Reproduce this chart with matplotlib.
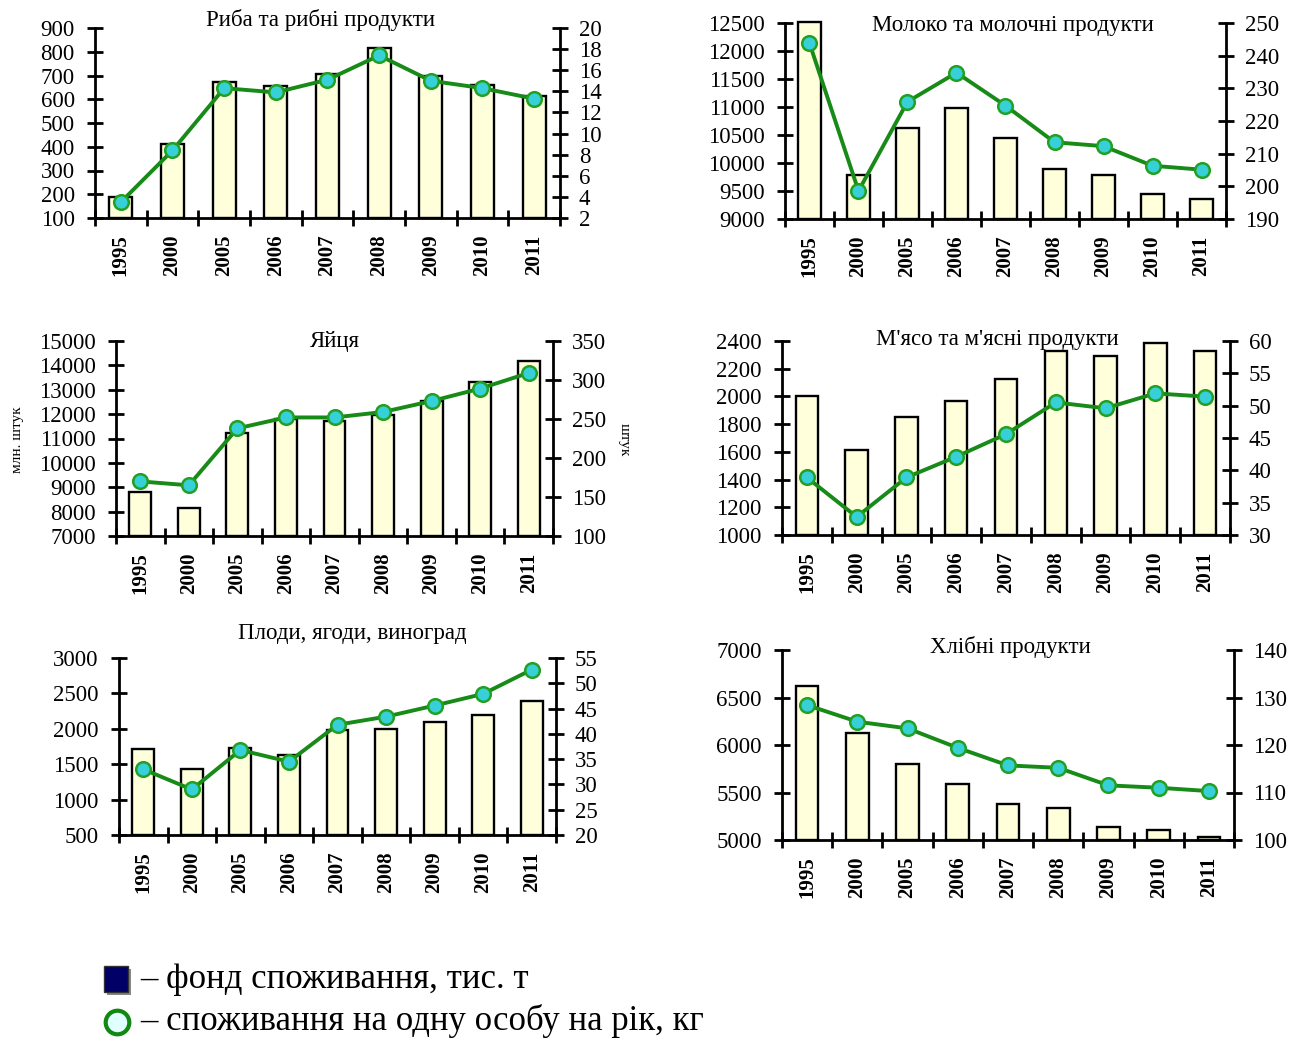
import numpy as np
import matplotlib.pyplot as plt
from matplotlib.patches import Rectangle
from matplotlib.lines import Line2D

plt.rcParams['font.family'] = ['Liberation Serif', 'DejaVu Serif']

# Дані (оцінені з рисунка)
years = ['1995', '2000', '2005', '2006', '2007', '2008', '2009', '2010', '2011']

fish_fund = [187, 412, 673, 654, 705, 815, 696, 662, 612]
fish_per_capita = [3.5, 8.4, 14.3, 13.9, 15.1, 17.4, 15.0, 14.3, 13.3]

milk_fund = [12520, 9790, 10620, 10975, 10440, 9885, 9790, 9445, 9350]
milk_per_capita = [243.8, 198.6, 225.9, 234.8, 224.7, 213.5, 212.3, 206.3, 205.1]

eggs_fund = [8800, 8130, 11210, 11790, 11720, 11970, 12540, 13320, 14190]
eggs_per_capita = [170, 165, 238, 252, 252, 259, 273, 289, 309]

meat_fund = [2006, 1616, 1851, 1968, 2125, 2331, 2292, 2386, 2331]
meat_per_capita = [38.9, 32.8, 38.9, 42.1, 45.6, 50.5, 49.6, 51.9, 51.4]

fruit_fund = [1710, 1430, 1730, 1630, 1985, 2000, 2090, 2198, 2396]
fruit_per_capita = [33.0, 29.0, 36.8, 34.5, 41.8, 43.4, 45.6, 47.9, 52.7]

bread_fund = [6620, 6127, 5803, 5588, 5380, 5338, 5137, 5109, 5035]
bread_per_capita = [128.4, 124.9, 123.5, 119.4, 115.7, 115.2, 111.5, 111.0, 110.3]

W, H = 1291, 1039
fig = plt.figure(figsize=(W / 100, H / 100), dpi=100)

BAR_COLOR = '#ffffdc'
LINE_COLOR = '#178a17'
MARKER_FACE = '#38d0d8'
MARKER_EDGE = '#22a022'


def draw_panel(box, fund, per_capita, left_ticks, right_ticks, title, title_xy):
    l, r, t, b = box
    ax = fig.add_axes([l / W, 1 - b / H, (r - l) / W, (b - t) / H])
    x = np.arange(len(years))
    base = left_ticks[0]
    ax.bar(x, np.array(fund) - base, bottom=base, width=0.45, color=BAR_COLOR,
           edgecolor='black', linewidth=1.7, clip_on=False)
    ax.set_xlim(-0.5, len(years) - 0.5)
    ax.set_ylim(left_ticks[0], left_ticks[-1])

    ax2 = ax.twinx()
    ax2.plot(x, per_capita, color=LINE_COLOR, linewidth=2.8, marker='o',
             markersize=10.5, markerfacecolor=MARKER_FACE,
             markeredgecolor=MARKER_EDGE, markeredgewidth=1.8, clip_on=False)
    ax2.set_ylim(right_ticks[0], right_ticks[-1])

    for a in (ax, ax2):
        a.spines['top'].set_visible(False)
        for s in a.spines.values():
            s.set_linewidth(2)
    ax.spines['right'].set_visible(False)
    ax2.spines['left'].set_visible(False)
    ax2.spines['bottom'].set_visible(False)

    ax.set_xticks(np.arange(-0.5, len(years), 1))
    ax.set_xticklabels([])
    ax.set_xticks(x, minor=True)
    ax.set_xticklabels(years, minor=True, rotation=90, fontweight='bold', fontsize=15)
    ax.tick_params(axis='x', which='major', direction='inout', length=11, width=2)
    ax.tick_params(axis='x', which='minor', length=0, pad=12)

    ax.set_yticks(left_ticks)
    ax.tick_params(axis='y', direction='inout', length=11, width=2,
                   labelsize=16.5, pad=9)
    ax2.set_yticks(right_ticks)
    ax2.tick_params(axis='y', direction='inout', length=11, width=2,
                    labelsize=16.5, pad=8)

    fig.text(title_xy[0] / W, 1 - title_xy[1] / H, title, ha='center',
             va='center', fontsize=16.5)
    return ax, ax2


draw_panel((95, 560, 28, 218), fish_fund, fish_per_capita,
           list(range(100, 901, 100)), list(range(2, 21, 2)),
           'Риба та рибні продукти', (320, 20))
draw_panel((785, 1226, 23, 219), milk_fund, milk_per_capita,
           list(range(9000, 12501, 500)), list(range(190, 251, 10)),
           'Молоко та молочні продукти', (1013, 25))
draw_panel((116, 553, 341, 536), eggs_fund, eggs_per_capita,
           list(range(7000, 15001, 1000)), list(range(100, 351, 50)),
           'Яйця', (335, 342))
draw_panel((782, 1230, 341, 535), meat_fund, meat_per_capita,
           list(range(1000, 2401, 200)), list(range(30, 61, 5)),
           "М'ясо та м'ясні продукти", (997, 340))
draw_panel((119, 556, 658, 835), fruit_fund, fruit_per_capita,
           list(range(500, 3001, 500)), list(range(20, 56, 5)),
           'Плоди, ягоди, виноград', (352, 633))
draw_panel((782, 1234, 650, 840), bread_fund, bread_per_capita,
           list(range(5000, 7001, 500)), list(range(100, 141, 10)),
           'Хлібні продукти', (1010, 647))

fig.text(17 / W, 1 - 440 / H, 'млн. штук', rotation=90, fontsize=11,
         ha='center', va='center')
fig.text(624 / W, 1 - 440 / H, 'штук', rotation=270, fontsize=11,
         ha='center', va='center')

# Легенда
fig.add_artist(Rectangle((107 / W, 1 - 995 / H), 24 / W, 26 / H,
                         transform=fig.transFigure, facecolor='#888888',
                         edgecolor='none'))
fig.add_artist(Rectangle((104 / W, 1 - 992 / H), 24 / W, 26 / H,
                         transform=fig.transFigure, facecolor='#000066',
                         edgecolor='#333333', linewidth=1))
fig.add_artist(Line2D([117 / W], [1 - 1022 / H], transform=fig.transFigure,
                      linestyle='none', marker='o', markersize=17,
                      markerfacecolor='#e0ffff', markeredgecolor='#118811',
                      markeredgewidth=3))
fig.text(140 / W, 1 - 979 / H, '– фонд споживання, тис. т', fontsize=25,
         ha='left', va='center')
fig.text(140 / W, 1 - 1021 / H, '– споживання на одну особу на рік, кг',
         fontsize=25, ha='left', va='center')

fig.savefig('out.png', dpi=100)
